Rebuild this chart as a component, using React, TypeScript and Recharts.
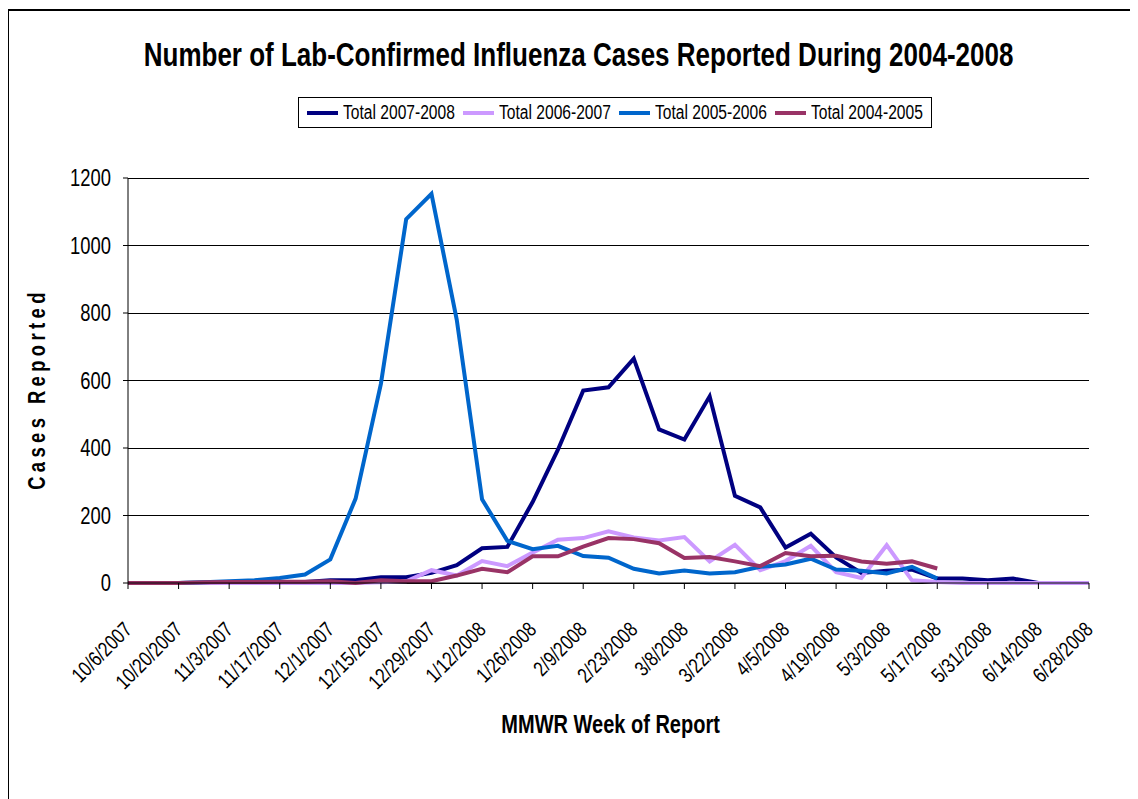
import React from "react";
import {
  LineChart,
  Line,
  XAxis,
  YAxis,
  CartesianGrid,
  Legend,
} from "recharts";

const FONT = '"Liberation Sans", Arial, sans-serif';
// Excel rendered everything in a condensed face; squeeze horizontally
const SQUEEZE = 0.8;

const weeks = [
  "10/6/2007", "10/13/2007", "10/20/2007", "10/27/2007", "11/3/2007", "11/10/2007",
  "11/17/2007", "11/24/2007", "12/1/2007", "12/8/2007", "12/15/2007", "12/22/2007",
  "12/29/2007", "1/5/2008", "1/12/2008", "1/19/2008", "1/26/2008", "2/2/2008",
  "2/9/2008", "2/16/2008", "2/23/2008", "3/1/2008", "3/8/2008", "3/15/2008",
  "3/22/2008", "3/29/2008", "4/5/2008", "4/12/2008", "4/19/2008", "4/26/2008",
  "5/3/2008", "5/10/2008", "5/17/2008", "5/24/2008", "5/31/2008", "6/7/2008",
  "6/14/2008", "6/21/2008", "6/28/2008",
];

const total0708 = [
  0, 0, 0, 1, 1, 2, 2, 3, 8, 8, 17, 17, 30, 53, 103, 107, 240, 395, 570, 580,
  665, 455, 425, 553, 258, 224, 105, 146, 76, 30, 36, 40, 13, 13, 8, 13, 0, 0, 0,
];
const total0607 = [
  0, 0, 0, 0, 0, 0, 0, 0, 0, 0, 2, 5, 38, 22, 65, 50, 90, 128, 133, 153,
  135, 126, 136, 64, 113, 38, 65, 110, 32, 15, 112, 8, 3, 0, 0, 0, 0, 0, 0,
];
const total0506 = [
  0, 0, 0, 2, 5, 8, 15, 25, 70, 250, 590, 1078, 1153, 780, 248, 125, 100, 110, 80, 75,
  42, 28, 37, 28, 32, 48, 55, 72, 40, 36, 28, 48, 13,
];
const total0405 = [
  0, 0, 0, 2, 3, 3, 4, 4, 5, 0, 8, 5, 5, 22, 42, 32, 79, 79, 108, 133,
  130, 118, 74, 77, 64, 50, 89, 79, 81, 64, 57, 64, 43,
];

const yTicks = [0, 200, 400, 600, 800, 1000, 1200];

const series = [
  { key: "t0708", name: "Total 2007-2008", color: "#000080", values: total0708 },
  { key: "t0607", name: "Total 2006-2007", color: "#CC99FF", values: total0607 },
  { key: "t0506", name: "Total 2005-2006", color: "#0066CC", values: total0506 },
  { key: "t0405", name: "Total 2004-2005", color: "#993366", values: total0405 },
];

const data = weeks.map((w, i) => {
  const row: Record<string, string | number | null> = { week: w };
  series.forEach((s) => {
    row[s.key] = i < s.values.length ? s.values[i] : null;
  });
  return row;
});

const DateTick = (props: any) => {
  const { x, y, payload } = props;
  return (
    <g transform={`translate(${x + 5},${y + 42})`}>
      <text
        x={0}
        y={0}
        textAnchor="end"
        transform={`rotate(-45) scale(${SQUEEZE},1)`}
        fontSize={21}
        fontFamily={FONT}
        fill="#000"
      >
        {payload.value}
      </text>
    </g>
  );
};

const ValueTick = (props: any) => {
  const { x, y, payload } = props;
  return (
    <text
      x={0}
      y={0}
      dy="0.355em"
      textAnchor="end"
      transform={`translate(${x},${y}) scale(${SQUEEZE},1)`}
      fontSize={23}
      fontFamily={FONT}
      fill="#000"
    >
      {payload.value}
    </text>
  );
};

const Squeezed = ({ children, origin = "center" }: { children: React.ReactNode; origin?: string }) => (
  <span
    style={{
      display: "inline-block",
      transform: `scaleX(${SQUEEZE})`,
      transformOrigin: origin,
    }}
  >
    {children}
  </span>
);

const LegendBox = () => (
  <div
    style={{
      display: "flex",
      alignItems: "center",
      border: "1px solid #000",
      background: "#fff",
      height: 31,
      padding: "0 6px 0 8px",
      fontFamily: FONT,
      fontSize: 19.5,
      whiteSpace: "nowrap",
      boxSizing: "border-box",
    }}
  >
    {series.map((s, i) => (
      <div key={s.key} style={{ display: "flex", alignItems: "center", marginLeft: i ? 6 : 0 }}>
        <div style={{ width: 31, height: 4, background: s.color, marginRight: 5 }} />
        <div style={{ width: 114, overflow: "visible" }}>
          <Squeezed origin="left center">{s.name}</Squeezed>
        </div>
      </div>
    ))}
  </div>
);

export default function App() {
  return (
    <div style={{ position: "relative", width: 1130, height: 791, fontFamily: FONT }}>
      <div
        style={{
          position: "absolute",
          left: 0,
          top: 31,
          width: 1141,
          textAlign: "center",
          fontSize: 32.5,
          fontWeight: "bold",
          lineHeight: "33px",
          whiteSpace: "nowrap",
        }}
      >
        <Squeezed>Number of Lab-Confirmed Influenza Cases Reported During 2004-2008</Squeezed>
      </div>
      <div
        style={{
          position: "absolute",
          left: 29,
          top: 381,
          transform: `translate(-50%, -50%) rotate(-90deg) scaleX(${SQUEEZE})`,
          fontSize: 23,
          fontWeight: "bold",
          letterSpacing: 5.5,
          whiteSpace: "nowrap",
        }}
      >
        Cases Reported
      </div>
      <div
        style={{
          position: "absolute",
          left: 303,
          top: 704,
          width: 600,
          textAlign: "center",
          fontSize: 25,
          fontWeight: "bold",
          lineHeight: "25px",
          whiteSpace: "nowrap",
        }}
      >
        <Squeezed>MMWR Week of Report</Squeezed>
      </div>
      <div style={{ position: "absolute", left: 0, top: 0 }}>
        <LineChart
          width={1130}
          height={791}
          data={data}
          margin={{ top: 170, right: 49, left: 0, bottom: 0 }}
        >
          <CartesianGrid vertical={false} stroke="#000" strokeWidth={1} shapeRendering="crispEdges" />
          <XAxis
            dataKey="week"
            interval={1}
            tick={<DateTick />}
            tickSize={6}
            tickMargin={0}
            height={216}
            stroke="#000"
            padding={{ left: 0, right: 0 }}
          />
          <YAxis
            domain={[0, 1200]}
            ticks={yTicks}
            width={120}
            tickSize={5}
            tickMargin={12}
            stroke="#000"
            tick={<ValueTick />}
          />
          <YAxis
            yAxisId="right"
            orientation="right"
            width={0}
            tick={false}
            tickLine={false}
            stroke="#808080"
          />
          <Legend
            layout="vertical"
            align="center"
            verticalAlign="middle"
            wrapperStyle={{ left: 290, top: 89, width: "auto" }}
            content={<LegendBox />}
          />
          {series.map((s) => (
            <Line
              key={s.key}
              dataKey={s.key}
              name={s.name}
              stroke={s.color}
              strokeWidth={4}
              dot={false}
              isAnimationActive={false}
              connectNulls={false}
            />
          ))}
        </LineChart>
      </div>
      <div
        style={{
          position: "absolute",
          left: -1,
          top: 1,
          width: 1131,
          height: 790,
          borderLeft: "2px solid #000",
          borderTop: "2px solid #000",
          boxSizing: "border-box",
          pointerEvents: "none",
        }}
      />
    </div>
  );
}
